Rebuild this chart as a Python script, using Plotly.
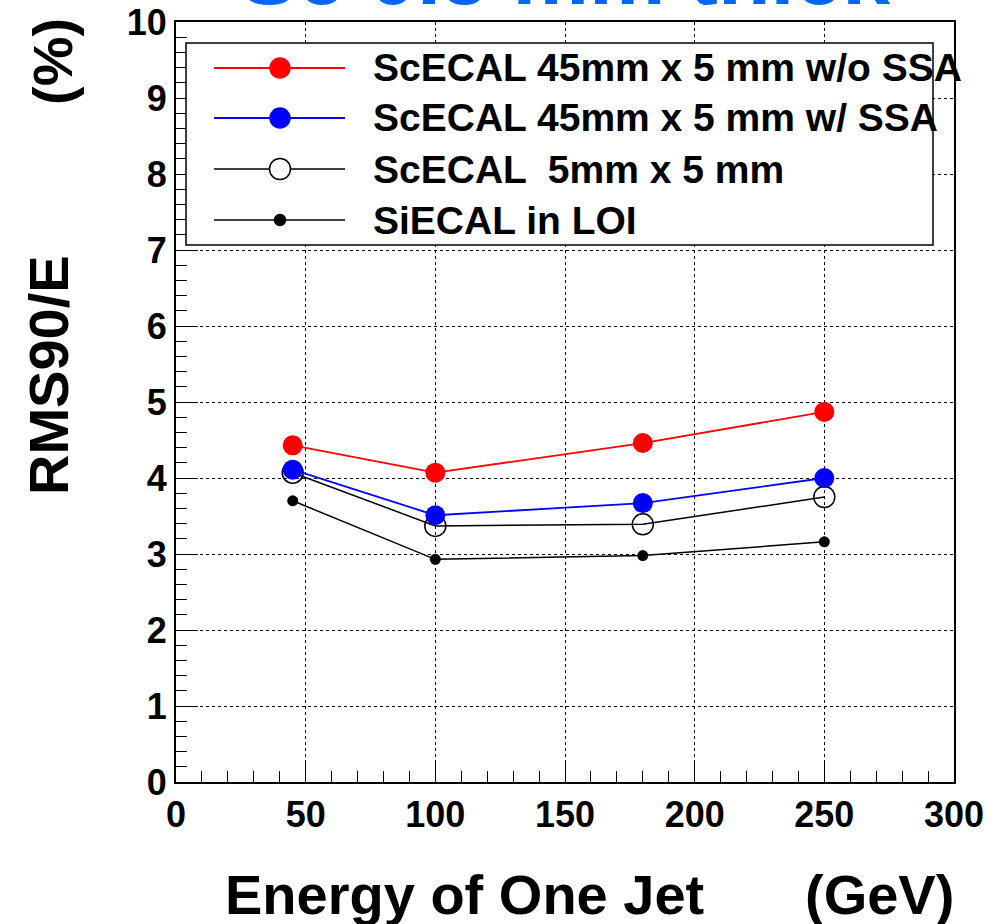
import plotly.graph_objects as go

# ---- data ----
energy = [45, 100, 180, 250]
sc45_wo_ssa = [4.43, 4.07, 4.46, 4.87]
sc45_w_ssa = [4.11, 3.51, 3.67, 4.00]
sc5x5 = [4.07, 3.37, 3.39, 3.75]
si_loi = [3.70, 2.93, 2.98, 3.16]

legend_labels = ["ScECAL 45mm x 5 mm w/o SSA", "ScECAL 45mm x 5 mm w/ SSA",
                 "ScECAL  5mm x 5 mm", "SiECAL in LOI"]
x_ticks = [0, 50, 100, 150, 200, 250, 300]
y_ticks = list(range(0, 11))

# ---- layout geometry (pixels) ----
W, H = 995, 924
L, R, T, B = 176, 41, 22, 142
PW, PH = W - L - R, H - T - B
FONT = "Liberation Sans, Arial, sans-serif"


def px(xp):
    return (xp - L) / PW


def py(yp):
    return (H - B - yp) / PH


fig = go.Figure()

series = [
    (si_loi, "black", 1.5, dict(symbol="circle", size=11, color="black")),
    (sc5x5, "black", 1.5, dict(symbol="circle-open", size=21, color="black", line=dict(width=1.5, color="black"))),
    (sc45_w_ssa, "blue", 1.8, dict(symbol="circle", size=20, color="blue")),
    (sc45_wo_ssa, "red", 1.8, dict(symbol="circle", size=20, color="red")),
]
for vals, col, lw, mk in series:
    fig.add_trace(go.Scatter(x=energy, y=vals, mode="lines+markers",
                             line=dict(color=col, width=lw), marker=mk,
                             showlegend=False, cliponaxis=False))

axis_common = dict(
    showline=True, linecolor="black", linewidth=2, mirror=True,
    ticks="inside", tickcolor="black", tickwidth=1.2,
    showgrid=True, gridcolor="black", griddash="dot", gridwidth=1,
    zeroline=False,
    tickfont=dict(family=FONT, size=36, color="black", weight="bold"),
)

fig.update_xaxes(range=[0, 300], tickvals=x_ticks, ticklen=22,
                 minor=dict(dtick=10, ticklen=11, ticks="inside", tickcolor="black", showgrid=False),
                 **axis_common)
fig.update_yaxes(range=[0, 10], tickvals=y_ticks, ticklen=22,
                 minor=dict(dtick=0.2, ticklen=11, ticks="inside", tickcolor="black", showgrid=False),
                 **axis_common)

shapes = []
annotations = []

# legend box
shapes.append(dict(type="rect", xref="paper", yref="paper",
                   x0=px(186), x1=px(933), y0=py(245), y1=py(43),
                   line=dict(color="black", width=1.5), fillcolor="white", layer="above"))
leg_rows = [68, 118, 169, 220]
leg_style = [
    ("red", 1.8, "filled", 20),
    ("blue", 1.8, "filled", 20),
    ("black", 1.5, "open", 21),
    ("black", 1.5, "filled", 11),
]
for (col, lw, kind, sz), yrow, lab in zip(leg_style, leg_rows, legend_labels):
    shapes.append(dict(type="line", xref="paper", yref="paper",
                       x0=px(214), x1=px(345), y0=py(yrow), y1=py(yrow),
                       line=dict(color=col, width=lw), layer="above"))
    shapes.append(dict(type="circle", xref="paper", yref="paper",
                       xsizemode="pixel", ysizemode="pixel",
                       xanchor=px(280), yanchor=py(yrow),
                       x0=-sz / 2, x1=sz / 2, y0=-sz / 2, y1=sz / 2,
                       fillcolor=("white" if kind == "open" else col),
                       line=dict(color=col, width=1.5), layer="above"))
    annotations.append(dict(text=lab, xref="paper", yref="paper",
                            x=px(371), y=py(yrow), xanchor="left", yanchor="middle",
                            showarrow=False,
                            font=dict(family=FONT, size=39, color="black", weight="bold")))

# axis titles
annotations.append(dict(text="Energy of One Jet", xref="paper", yref="paper",
                        x=px(223), y=py(894), xanchor="left", yanchor="middle",
                        showarrow=False, font=dict(family=FONT, size=56, color="black", weight="bold")))
annotations.append(dict(text="(GeV)", xref="paper", yref="paper",
                        x=px(956), y=py(894), xanchor="right", yanchor="middle",
                        showarrow=False, font=dict(family=FONT, size=56, color="black", weight="bold")))
annotations.append(dict(text="RMS90/E", xref="paper", yref="paper", textangle=-90,
                        x=px(49), y=py(375), xanchor="center", yanchor="middle",
                        showarrow=False, font=dict(family=FONT, size=56, color="black", weight="bold")))
annotations.append(dict(text="(%)", xref="paper", yref="paper", textangle=-90,
                        x=px(52), y=py(62), xanchor="center", yanchor="middle",
                        showarrow=False, font=dict(family=FONT, size=56, color="black", weight="bold")))
# cut-off title at top
annotations.append(dict(text="Sc 0.5 mm thick", xref="paper", yref="paper",
                        x=px(565), y=py(-26), xanchor="center", yanchor="middle",
                        showarrow=False, font=dict(family=FONT, size=86, color="#0066ff", weight="bold")))

fig.update_layout(
    width=W, height=H,
    margin=dict(l=L, r=R, t=T, b=B, autoexpand=False),
    paper_bgcolor="white", plot_bgcolor="white",
    shapes=shapes, annotations=annotations,
    showlegend=False,
)

fig.write_html("out.html", config={"displayModeBar": False},
               post_script="document.body.style.margin='0px';document.body.style.overflow='hidden';")
